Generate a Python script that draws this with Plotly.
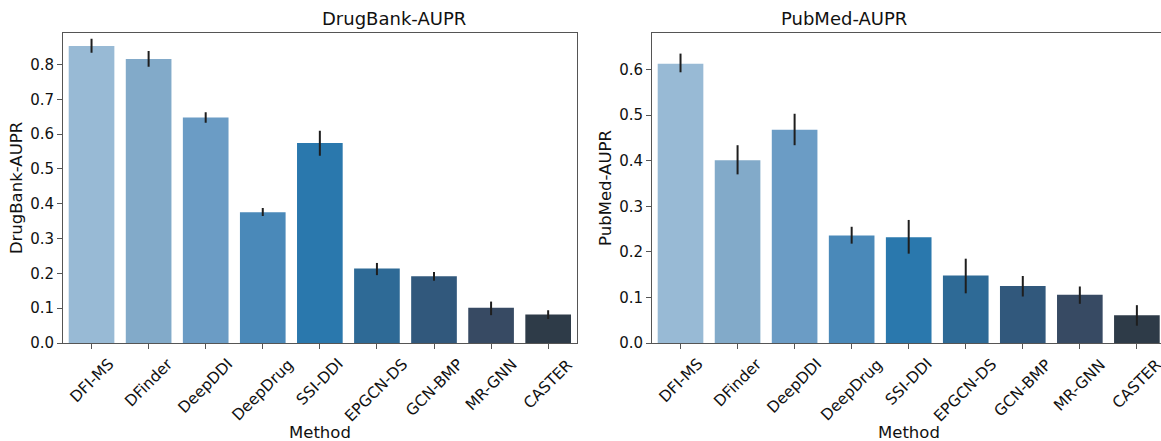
import plotly.graph_objects as go
from plotly.subplots import make_subplots

methods = ["DFI-MS", "DFinder", "DeepDDI", "DeepDrug", "SSI-DDI", "EPGCN-DS", "GCN-BMP", "MR-GNN", "CASTER"]

drugbank_aupr = [0.853, 0.816, 0.648, 0.376, 0.575, 0.214, 0.192, 0.101, 0.082]
drugbank_err_hi = [0.874, 0.839, 0.663, 0.388, 0.610, 0.230, 0.204, 0.119, 0.094]
drugbank_err_lo = [0.834, 0.794, 0.633, 0.365, 0.538, 0.195, 0.179, 0.080, 0.069]

pubmed_aupr = [0.613, 0.401, 0.468, 0.236, 0.232, 0.148, 0.125, 0.106, 0.061]
pubmed_err_hi = [0.635, 0.434, 0.503, 0.255, 0.270, 0.185, 0.147, 0.124, 0.083]
pubmed_err_lo = [0.594, 0.370, 0.434, 0.218, 0.196, 0.109, 0.102, 0.086, 0.038]

bar_colors = ["#98bad5", "#82aac9", "#6b9cc5", "#4a89b9", "#2a78ad",
              "#2e6a96", "#31587c", "#374a63", "#2e3b48"]

W, H = 1161, 441
ML, MR, MT, MB = 63, 0, 33, 98
PW = W - ML - MR

fig = make_subplots(rows=1, cols=2)

def add_panel(vals, hi, lo, col):
    fig.add_trace(go.Bar(
        x=methods, y=vals,
        marker=dict(color=bar_colors, line=dict(width=0)),
        width=0.8,
        error_y=dict(type="data", symmetric=False,
                     array=[h - v for h, v in zip(hi, vals)],
                     arrayminus=[v - l for v, l in zip(vals, lo)],
                     color="#1e1e1e", thickness=2, width=0),
        showlegend=False,
    ), row=1, col=col)

add_panel(drugbank_aupr, drugbank_err_hi, drugbank_err_lo, 1)
add_panel(pubmed_aupr, pubmed_err_hi, pubmed_err_lo, 2)

font_family = "DejaVu Sans"
tickfont = dict(family=font_family, size=15, color="#111111")
xlabfont = dict(family=font_family, size=15.5, color="#111111")
labfont = dict(family=font_family, size=16.5, color="#111111")
axcolor = "#555555"

left_dom = [0, (576.7 - ML) / PW]
right_dom = [(652 - ML) / PW, 1]
cat_px = (576.7 - 63.3) / 9

common_x = dict(showline=True, linecolor=axcolor, linewidth=1, ticks="outside",
                ticklen=5, tickcolor=axcolor, showticklabels=False,
                showgrid=False, zeroline=False, automargin=False)
common_y = dict(showline=True, linecolor=axcolor, linewidth=1, ticks="outside",
                ticklen=5, tickcolor=axcolor, tickfont=tickfont, tickformat=".1f",
                showgrid=False, zeroline=False, automargin=False, dtick=0.1)

right_width_px = W - 652
fig.update_xaxes(**common_x, domain=left_dom, range=[-0.5, 8.5], mirror=True, row=1, col=1)
fig.update_xaxes(**common_x, domain=right_dom,
                 range=[-0.5, -0.5 + right_width_px / cat_px], mirror=True, row=1, col=2)
fig.update_yaxes(**common_y, range=[0, 0.8907], mirror=True,
                 title=dict(text="DrugBank-AUPR", font=labfont, standoff=3), row=1, col=1)
fig.update_yaxes(**common_y, range=[0, 0.6802], mirror=False,
                 title=dict(text="PubMed-AUPR", font=labfont, standoff=3), row=1, col=2)

# rotated category labels, centred under their ticks (matplotlib style)
for xr, yr in (("x", "y domain"), ("x2", "y2 domain")):
    for m in methods:
        fig.add_annotation(text=m, x=m, xref=xr, y=0, yref=yr, yshift=-11,
                           xanchor="center", yanchor="top", textangle=-45,
                           showarrow=False, borderpad=0, font=xlabfont)

# x-axis titles
left_center = (63.3 + 576.7) / 2
right_center = (652 + 652 + 513.4) / 2
for cx in (left_center, right_center):
    fig.add_annotation(text="Method", xref="paper", yref="paper",
                       x=(cx - ML) / PW, y=0, yshift=-89, xanchor="center", yanchor="middle",
                       showarrow=False, font=labfont)

# panel titles
fig.add_annotation(text="DrugBank-AUPR", xref="paper", yref="paper",
                   x=(left_center - ML) / PW, y=1, yshift=2, yanchor="bottom", showarrow=False,
                   font=dict(family=font_family, size=18, color="#111111"))
fig.add_annotation(text="PubMed-AUPR", xref="paper", yref="paper",
                   x=(right_center - ML) / PW, y=1, yshift=2, yanchor="bottom", showarrow=False,
                   font=dict(family=font_family, size=18, color="#111111"))

fig.update_layout(width=W, height=H, margin=dict(l=ML, r=MR, t=MT, b=MB),
                  plot_bgcolor="white", paper_bgcolor="white", bargap=0.2)

fig.write_html("out.html", config={"displayModeBar": False},
               post_script="document.body.style.margin='0';document.body.style.overflow='hidden';")
